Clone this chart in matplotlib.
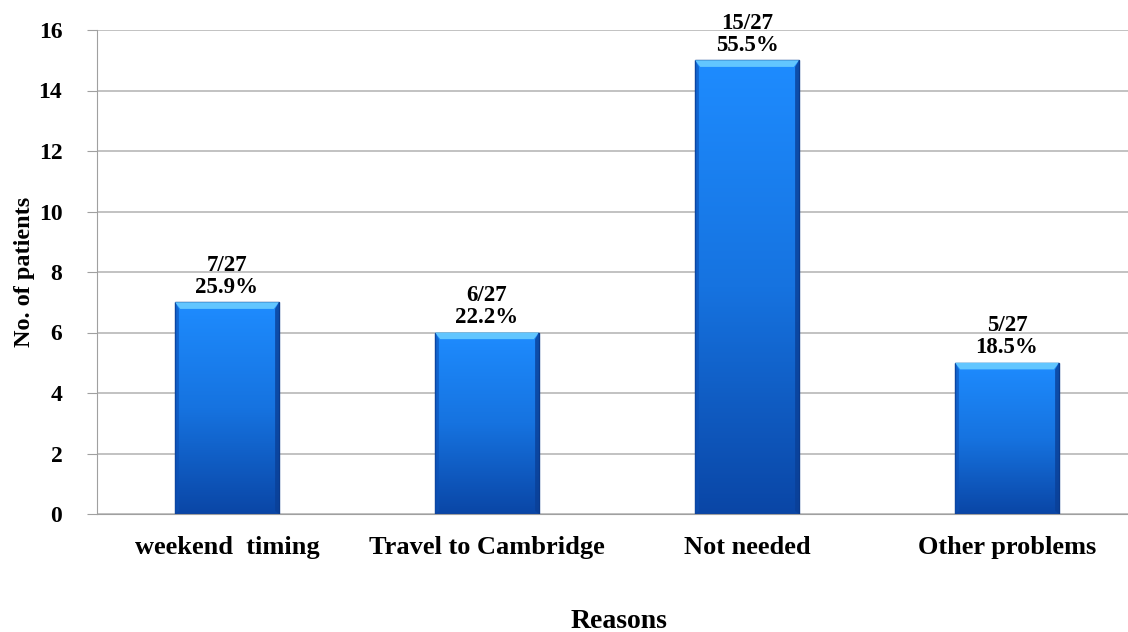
import numpy as np
import matplotlib.pyplot as plt
from matplotlib.colors import LinearSegmentedColormap

# Reasons for not attending
reasons = ['weekend  timing', 'Travel to Cambridge', 'Not needed', 'Other problems']
patients = [7, 6, 15, 5]
total = 27
pct_labels = ['25.9%', '22.2%', '55.5%', '18.5%']

plt.rcParams['font.family'] = ['Liberation Serif', 'DejaVu Serif']
plt.rcParams['font.weight'] = 'bold'

fig = plt.figure(figsize=(11.28, 6.32), dpi=100)
ax = fig.add_axes([97 / 1128, 118 / 632, 1040 / 1128, 484 / 632])

x = np.arange(len(reasons))
bars = ax.bar(x, patients, width=0.4, color='none', edgecolor='#0a3a8c', linewidth=1.0, zorder=3)

# vertical gradient fill for each bar, plus a light bevel on top
cmap = LinearSegmentedColormap.from_list('barblue', ['#0a46a6', '#1673e0', '#1e8cff'])
grad = np.linspace(0, 1, 256).reshape(-1, 1)
for b in bars:
    x0, w, h = b.get_x(), b.get_width(), b.get_height()
    im = ax.imshow(grad, cmap=cmap, origin='lower', aspect='auto',
                   extent=[x0, x0 + w, 0, h], zorder=2)
    im.set_clip_path(b)
    ax.fill([x0, x0 + w, x0 + w - 0.02, x0 + 0.02], [h, h, h - 0.22, h - 0.22],
            color='#62c6ff', zorder=4, linewidth=0)
    ax.fill([x0, x0 + 0.015, x0 + 0.015, x0], [0, 0.1, h - 0.22, h],
            color='#0c4fb4', alpha=0.6, zorder=4, linewidth=0)
    ax.fill([x0 + w, x0 + w - 0.015, x0 + w - 0.015, x0 + w], [0, 0.1, h - 0.22, h],
            color='#0a3f96', alpha=0.8, zorder=4, linewidth=0)

for xi, n, p in zip(x, patients, pct_labels):
    ax.text(xi, n + 0.15, f'{n}/{total}\n{p}', ha='center', va='bottom',
            fontsize=16.5, fontweight='bold', linespacing=1.05, zorder=5)

ax.set_xlim(-0.5, len(reasons) - 0.5)
ax.set_ylim(0, 16)
ax.set_yticks(range(0, 17, 2))
ax.set_xticks(x)
ax.set_xticklabels(reasons, fontsize=19, fontweight='bold')
ax.tick_params(axis='x', length=0, pad=16)
ax.tick_params(axis='y', length=7, color='#a0a0a0', labelsize=17, pad=18)
for lbl in ax.get_yticklabels():
    lbl.set_fontweight('bold')

ax.yaxis.grid(True, color='#b8b8b8', linewidth=1.2, zorder=0)
ax.set_axisbelow(True)
for side in ['top', 'right']:
    ax.spines[side].set_visible(False)
ax.spines['left'].set_color('#a0a0a0')
ax.spines['bottom'].set_color('#a0a0a0')

ax.set_ylabel('No. of patients', fontsize=17.5, fontweight='bold')
ax.yaxis.set_label_coords(-0.06, 0.5)
ax.set_xlabel('Reasons', fontsize=20, fontweight='bold')
ax.xaxis.set_label_coords(0.502, -0.222)
ax.xaxis.label.set_va('center')

fig.savefig('out.png', dpi=100)
